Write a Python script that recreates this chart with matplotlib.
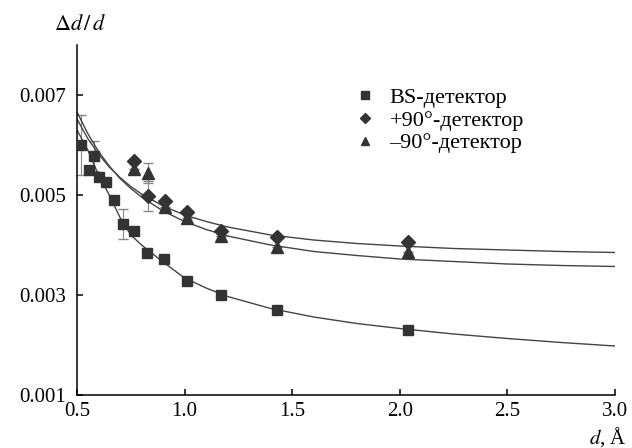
import matplotlib
matplotlib.use("Agg")
import matplotlib.pyplot as plt

plt.rcParams["font.family"] = ["Liberation Serif", "DejaVu Serif"]
plt.rcParams["mathtext.fontset"] = "stix"

# BS detector points
bs_d = [0.52, 0.556, 0.58, 0.603, 0.636, 0.67, 0.715, 0.765, 0.827, 0.906, 1.01, 1.17, 1.43, 2.04]
bs_v = [0.0060, 0.0055, 0.00578, 0.00536, 0.00526, 0.0049, 0.00441, 0.00427, 0.00384, 0.00371, 0.00328, 0.0030, 0.0027, 0.0023]
bs_err = [0.0006, 0.0, 0.0003, 0.0, 0.0, 0.0, 0.0003, 0.0, 0.0, 0.0, 0.0, 0.0, 0.0, 0.0]

# +90 detector points
p90_d = [0.765, 0.83, 0.91, 1.01, 1.17, 1.43, 2.04]
p90_v = [0.00568, 0.00498, 0.00488, 0.00465, 0.00427, 0.00415, 0.00405]
p90_err = [0.0, 0.0003, 0.0, 0.0, 0.0, 0.0, 0.0]

# -90 detector points
m90_d = [0.765, 0.83, 0.91, 1.01, 1.17, 1.43, 2.04]
m90_v = [0.00552, 0.00544, 0.00476, 0.00453, 0.00417, 0.00395, 0.00385]
m90_err = [0.0, 0.0002, 0.0, 0.0, 0.0, 0.0, 0.0]

# fitted curves
fit_d = [0.5, 0.55, 0.6, 0.65, 0.7, 0.75, 0.8, 0.9, 1.0, 1.1, 1.2, 1.4, 1.6, 1.8, 2.0, 2.25, 2.5, 2.75, 3.0]
fit_bs = [0.0063, 0.0059, 0.0054, 0.0050, 0.00455, 0.0042, 0.0040, 0.00366, 0.00334, 0.00314, 0.00297, 0.00273,
          0.00256, 0.00243, 0.00233, 0.00222, 0.00213, 0.00205, 0.00198]
fit_p90 = [0.00652, 0.00613, 0.00582, 0.00556, 0.00535, 0.00517, 0.00502, 0.00478, 0.0046, 0.00447, 0.00436,
           0.0042, 0.0041, 0.00403, 0.00398, 0.00393, 0.0039, 0.00387, 0.00385]
fit_m90 = [0.00666, 0.00623, 0.00587, 0.00558, 0.00533, 0.00513, 0.00496, 0.00468, 0.00447, 0.00431, 0.00418,
           0.004, 0.00387, 0.00379, 0.00372, 0.00367, 0.00362, 0.00359, 0.00357]

labels = ["BS-детектор", "+90°-детектор", "\u201390°-детектор"]

fig = plt.figure(figsize=(6.32, 4.48), dpi=100)
ax = fig.add_axes([0.1218, 0.1183, 0.8512, 0.7813])

line_col = "#444444"
mark_col = "#333333"
err_col = "#888888"

for fy in (fit_bs, fit_p90, fit_m90):
    ax.plot(fit_d, fy, color=line_col, linewidth=1.0, zorder=2)

ax.errorbar(bs_d, bs_v, yerr=bs_err, fmt="none", ecolor=err_col, elinewidth=0.8, capsize=3.5, zorder=1)
ax.errorbar(p90_d, p90_v, yerr=p90_err, fmt="none", ecolor=err_col, elinewidth=0.8, capsize=3.5, zorder=1)
ax.errorbar(m90_d, m90_v, yerr=m90_err, fmt="none", ecolor=err_col, elinewidth=0.8, capsize=3.5, zorder=1)

h1, = ax.plot(bs_d, bs_v, "s", color=mark_col, markersize=7.5, linestyle="none", zorder=3)
h2, = ax.plot(p90_d, p90_v, "D", color=mark_col, markersize=7.5, linestyle="none", zorder=3)
h3, = ax.plot(m90_d, m90_v, "^", color=mark_col, markersize=8.5, linestyle="none", zorder=3)

ax.set_xlim(0.5, 3.0)
ax.set_ylim(0.001, 0.008)
ax.set_xticks([0.5, 1.0, 1.5, 2.0, 2.5, 3.0])
ax.set_xticklabels(["0.5", "1.0", "1.5", "2.0", "2.5", "3.0"])
ax.set_yticks([0.001, 0.003, 0.005, 0.007])
ax.set_yticklabels(["0.001", "0.003", "0.005", "0.007"])

ax.spines["top"].set_visible(False)
ax.spines["right"].set_visible(False)
ax.spines["left"].set_linewidth(1.1)
ax.spines["bottom"].set_linewidth(1.1)
ax.tick_params(axis="both", direction="in", length=4.5, width=1.1, labelsize=15, colors="black")
ax.tick_params(axis="x", pad=5)
ax.tick_params(axis="y", pad=8)

leg = fig.legend([h1, h2, h3], labels, loc="upper left", bbox_to_anchor=(0.546, 0.83),
                 frameon=False, fontsize=16, handletextpad=0.7, labelspacing=0.1,
                 handlelength=0.8, markerscale=0.7, borderpad=0.0)

fig.text(0.127, 0.945, r"$\Delta d\,/\,d$", fontsize=16, ha="center", va="center")
fig.text(0.992, 0.025, r"$d$, Å", fontsize=15, ha="right", va="center")

fig.savefig("out.png", dpi=100)
